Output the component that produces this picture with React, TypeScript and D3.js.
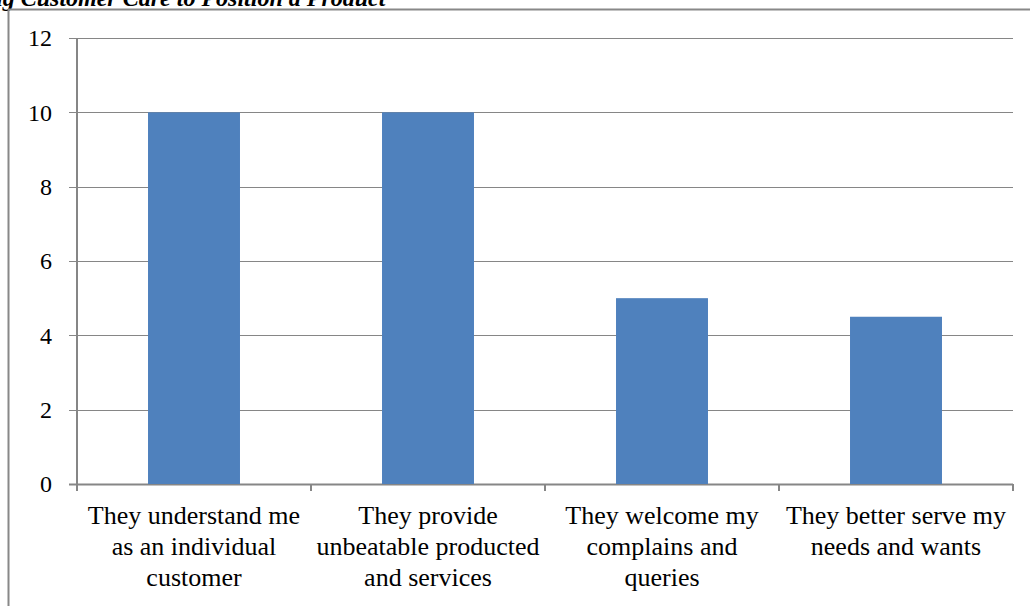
import React from "react";
import * as d3 from "d3";

const categories: string[][] = [
  ["They understand me", "as an individual", "customer"],
  ["They provide", "unbeatable producted", "and services"],
  ["They welcome my", "complains and", "queries"],
  ["They better serve my", "needs and wants"],
];
const values: number[] = [10, 10, 5, 4.5];
const yTicks: number[] = [0, 2, 4, 6, 8, 10, 12];
const titleText = "Using Customer Care to Position a Product";

const W = 1030;
const H = 606;
const left = 77;
const right = 1013;
const top = 38;
const bottom = 484;

export default function App() {
  const keys = categories.map((_, i) => String(i));
  const x = d3.scaleBand<string>().domain(keys).range([left, right]).paddingInner(0.607).paddingOuter(0.3035);
  const xb = d3.scaleBand<string>().domain(keys).range([left, right]).padding(0);
  const y = d3.scaleLinear().domain([0, 12]).range([bottom, top]);
  const grid = "#868686";
  const serif = "Liberation Serif";
  return (
    <div style={{ position: "absolute", left: 0, top: 0 }}>
      <svg width={W} height={H} style={{ display: "block", background: "#fff", fontFamily: serif }}>
        <text x={-44} y={6} style={{ fontFamily: serif }} fontStyle="italic" fontWeight="bold" fontSize={24} fill="#000">
          {titleText}
        </text>
        <line x1={8} x2={W} y1={9.5} y2={9.5} stroke="#888" strokeWidth={2} />
        <line x1={8.5} x2={8.5} y1={9} y2={H} stroke="#888" strokeWidth={2} />
        {yTicks.map((t) => (
          <g key={t}>
            <line x1={69} x2={right} y1={Math.round(y(t)) + 0.5} y2={Math.round(y(t)) + 0.5} stroke={grid} strokeWidth={t === 0 ? 2 : 1} />
            <text x={52} y={y(t)} dy="0.35em" textAnchor="end" style={{ fontFamily: serif }} fontSize={24} fill="#000">
              {t}
            </text>
          </g>
        ))}
        {values.map((v, i) => (
          <rect key={i} x={x(String(i))} y={y(v)} width={x.bandwidth()} height={y(0) - y(v)} fill="#4F81BD" />
        ))}
        <line x1={left} x2={left} y1={top} y2={bottom + 7} stroke={grid} strokeWidth={2} />
        {keys.concat(["end"]).map((k, i) => {
          const px = i < keys.length ? (xb(k) as number) : right;
          return <line key={k} x1={px} x2={px} y1={bottom} y2={bottom + 7} stroke={grid} strokeWidth={2} />;
        })}
        {categories.map((lines, i) => {
          const cx = (xb(String(i)) as number) + xb.bandwidth() / 2;
          return (
            <text key={i} textAnchor="middle" style={{ fontFamily: serif }} fontSize={26} fill="#000">
              {lines.map((ln, j) => (
                <tspan key={j} x={cx} y={524 + j * 31}>
                  {ln}
                </tspan>
              ))}
            </text>
          );
        })}
      </svg>
    </div>
  );
}
